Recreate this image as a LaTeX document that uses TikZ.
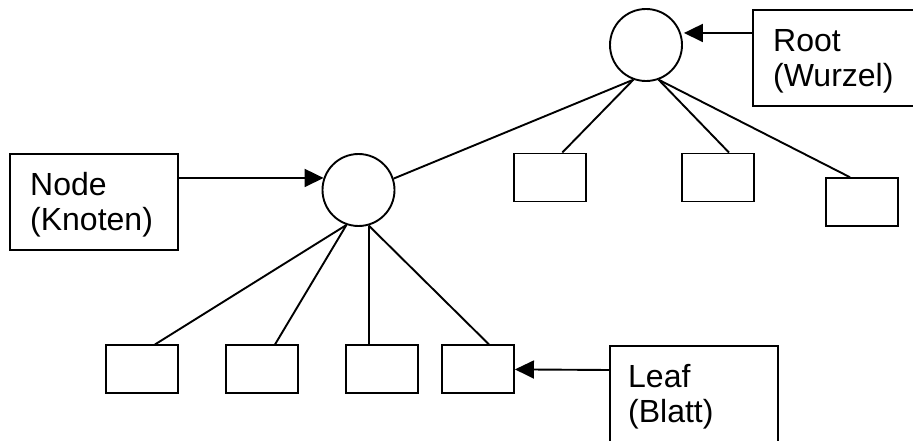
\documentclass[tikz,border=0pt]{standalone}
\usepackage{fontspec}
\setmainfont{Liberation Sans}
\usetikzlibrary{arrows.meta}
\begin{document}
\begin{tikzpicture}[x=1pt,y=-1pt,
  ln/.style={line width=1.9pt},
  circ/.style={circle, draw, line width=1.9pt, minimum size=72pt, inner sep=0pt},
  leafbox/.style={rectangle, draw, line width=1.9pt, minimum width=72pt, minimum height=48pt, inner sep=0pt},
  lblbox/.style={rectangle, draw, line width=1.9pt, minimum width=168pt, minimum height=96pt, inner sep=0pt},
  txt/.style={anchor=base west, inner sep=0pt, font=\fontsize{32}{35}\selectfont},
  arr/.style={line width=1.9pt, -{Triangle[length=19pt,width=18pt]}}]
\useasboundingbox (0,0) rectangle (913,441);
\clip (0,0) rectangle (913,441);
% circles
\node[circ] (rootc) at (646,45) {};
\node[circ] (nodec) at (358.5,190) {};
% label boxes
\node[lblbox] (rootlbl) at (837,58) {};
\node[lblbox] (nodelbl) at (94,202) {};
\node[lblbox] (leaflbl) at (694,394) {};
\node[txt] (t1) at (773,52) {Root};
\node[txt] (t2) at (773,87) {(Wurzel)};
\node[txt] (t3) at (30,195) {Node};
\node[txt] (t4) at (30,230) {(Knoten)};
\node[txt] (t5) at (628,387) {Leaf};
\node[txt] (t6) at (628,422) {(Blatt)};
% leaves of root
\node[leafbox] (a) at (550.3,177.5) {};
\node[leafbox] (b) at (718,177.5) {};
\node[leafbox] (c) at (862,202.2) {};
% leaves of node
\node[leafbox] (b1) at (142,369.4) {};
\node[leafbox] (b2) at (262,369.4) {};
\node[leafbox] (b3) at (382,369.4) {};
\node[leafbox] (b4) at (478,369.4) {};
% edges
\draw[ln] (nodec.18) -- (rootc.250);
\draw[ln] (rootc.250) -- ([xshift=12pt]a.north);
\draw[ln] (rootc.290) -- ([xshift=11pt]b.north);
\draw[ln] (rootc.290) -- ([xshift=-12pt]c.north);
\draw[ln] (nodec.251) -- ([xshift=13pt]b1.north);
\draw[ln] (nodec.251) -- ([xshift=13pt]b2.north);
\draw[ln] (nodec.286) -- (nodec.286 |- b3.north);
\draw[ln] (nodec.286) -- ([xshift=11pt]b4.north);
% arrows
\draw[arr] ([yshift=25pt]rootlbl.west) -- ([xshift=3pt]rootc.19);
\draw[arr] ([yshift=24pt]nodelbl.east) -- (nodec.161);
\draw[arr] ([yshift=24pt]leaflbl.west) -- (b4.east);
\end{tikzpicture}
\end{document}
